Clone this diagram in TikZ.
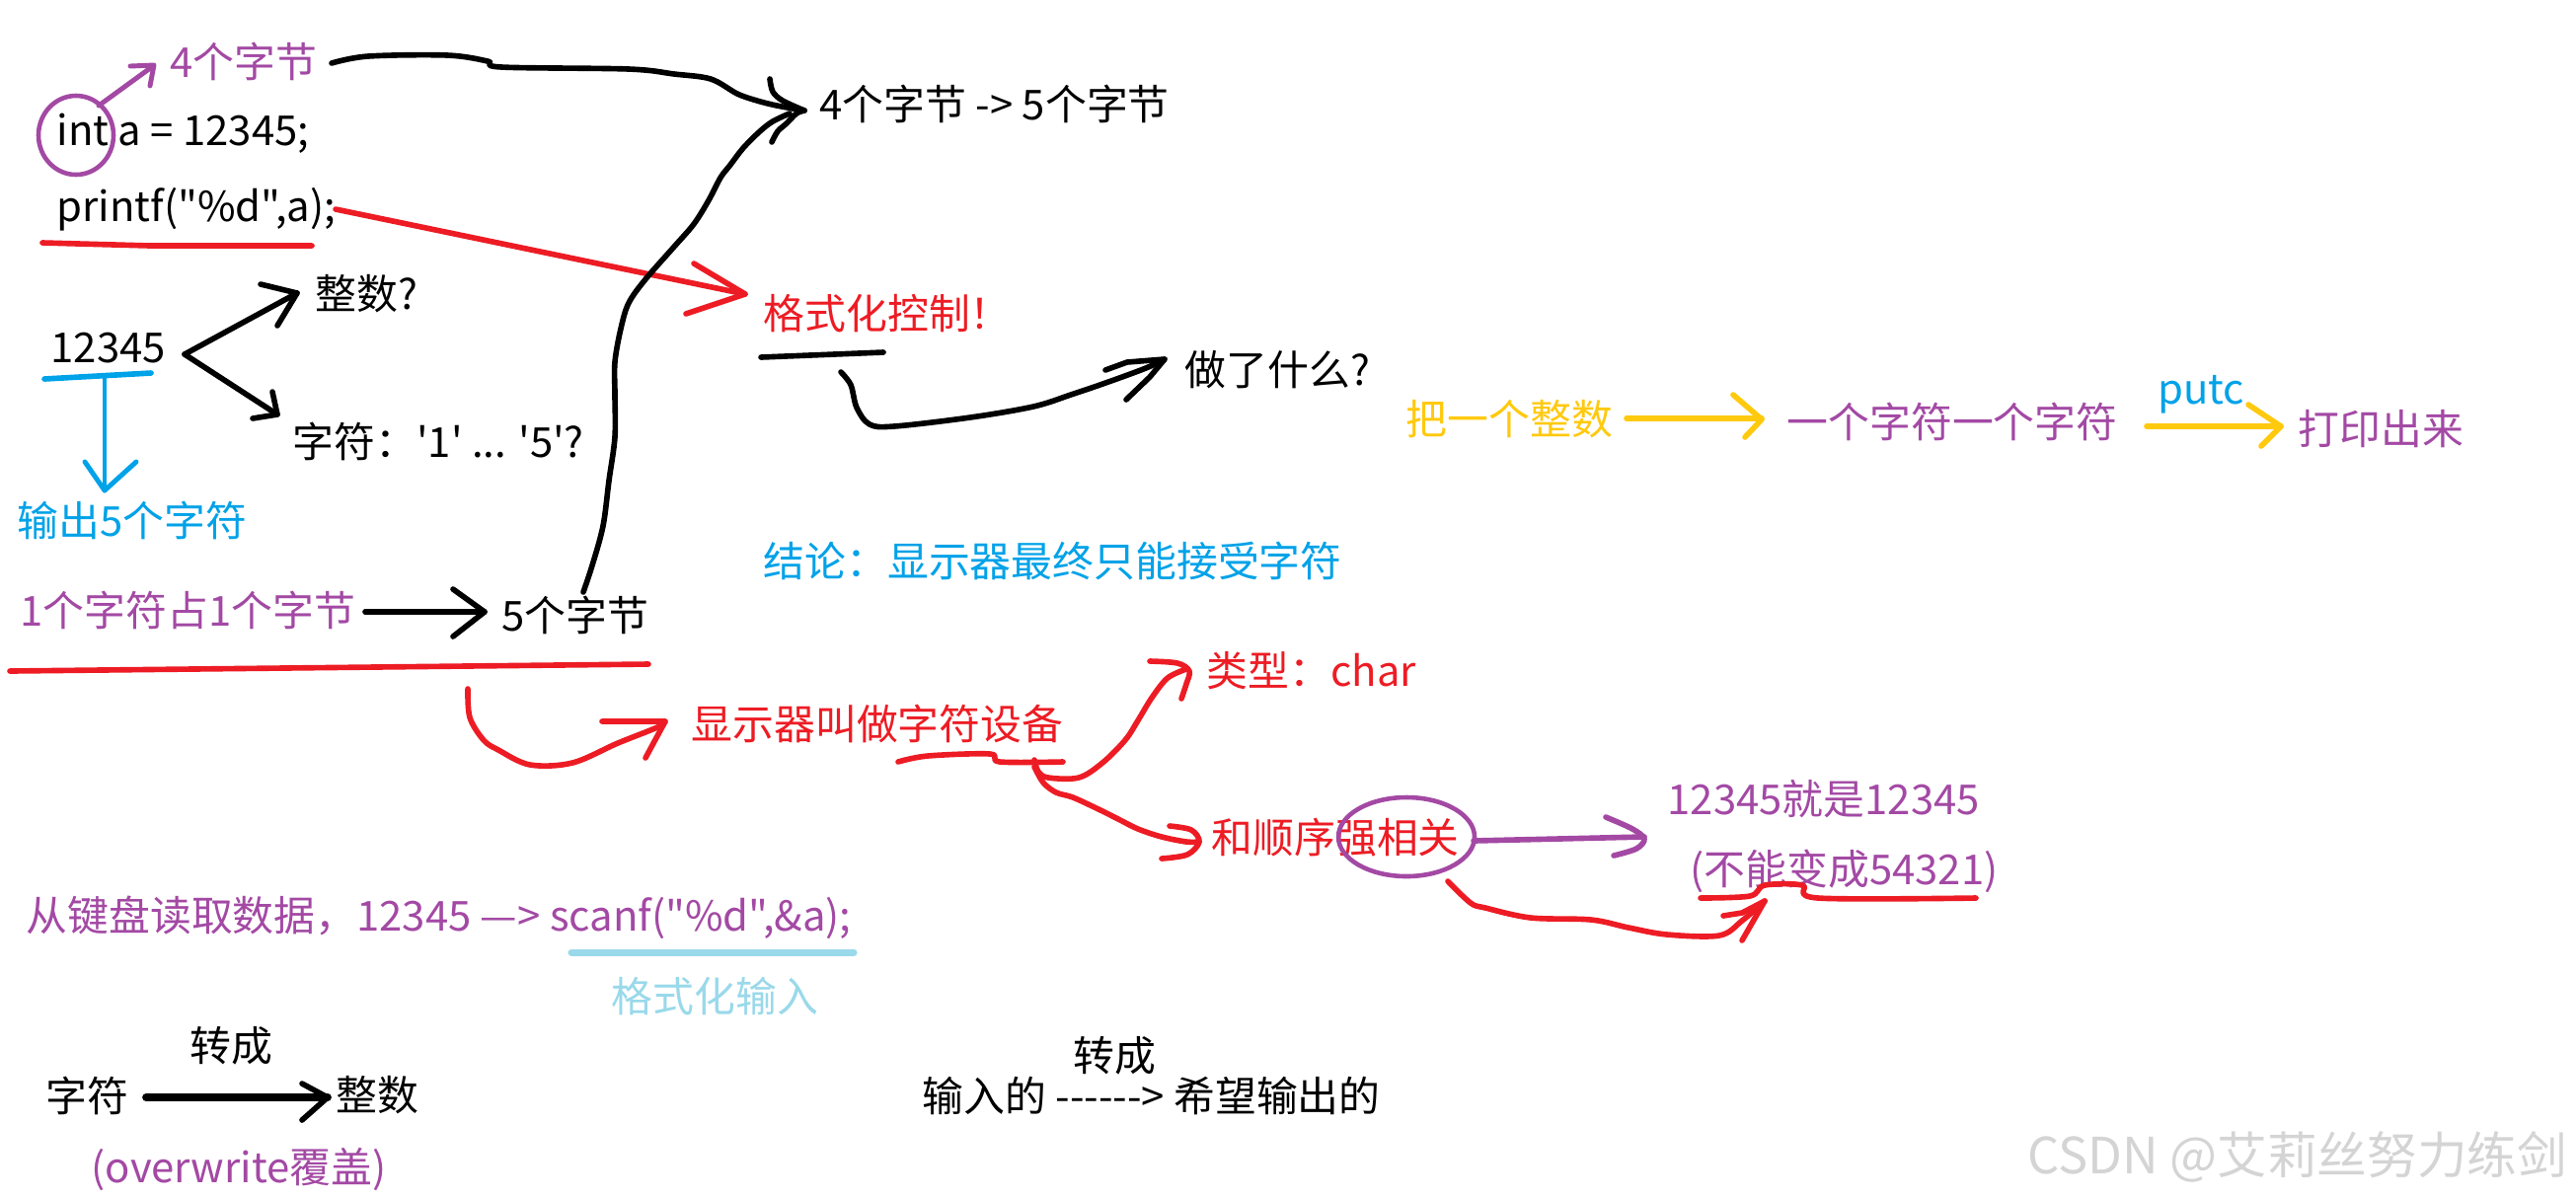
\documentclass[tikz,border=0pt]{standalone}
\usepackage{fontspec}
\setmainfont{Noto Sans CJK SC}[Ligatures=TeXOff]
\definecolor{ppl}{HTML}{A349A4}
\definecolor{rd}{HTML}{ED1C24}
\definecolor{bl}{HTML}{00A2E8}
\definecolor{gd}{HTML}{FFC90E}
\definecolor{lb}{HTML}{99D9EA}
\definecolor{wm}{HTML}{D4D4D4}
\tikzset{
  txt/.style={inner sep=0pt, anchor=west, font=\fontsize{11.9}{14}\selectfont},
  pen/.style={line width=1.6pt, line cap=round, line join=round},
  sm/.style={smooth, tension=0.55},
}
\begin{document}
\begin{tikzpicture}[x=0.01cm,y=-0.01cm]
\useasboundingbox[fill=white] (0,0) rectangle (2610,1214);

% ---- texts
\node[txt, ppl] (n4b) at (172,62) {4个字节};
\node[txt] (nint) at (57,135) {int a = 12345;};
\node[txt] (nprintf) at (57,212) {printf("\%d",a);};
\node[txt] (n12345) at (51,353) {12345};
\node[txt] (nzs1) at (319,298) {整数?};
\node[txt] (nzf1) at (296,447) {字符：'1' ... '5'?};
\node[txt, bl] (nout) at (17,527) {输出5个字符};
\node[txt, ppl] (none) at (20,618) {1个字符占1个字节};
\node[txt] (n5b) at (508,623) {5个字节};
\node[txt] (n45) at (830,105) {4个字节 -> 5个字节};
\node[txt, rd] (nfmt) at (773,318) {格式化控制！};
\node[txt] (nwhat) at (1200,375) {做了什么?};
\node[txt, gd] (nba) at (1424,425) {把一个整数};
\node[txt, ppl] (nyige) at (1810,427) {一个字符一个字符};
\node[txt, bl, anchor=center] (nputc) at (2230,400) {putc};
\node[txt, ppl] (nprint) at (2328,435) {打印出来};
\node[txt, bl] (nconc) at (773,568) {结论：显示器最终只能接受字符};
\node[txt, rd] (ndisp) at (700,733) {显示器叫做字符设备};
\node[txt, rd] (ntype) at (1222,680) {类型：char};
\node[txt, rd] (norder) at (1227,849) {和顺序强相关};
\node[txt, ppl] (nsame) at (1689,810) {12345就是12345};
\node[txt, ppl] (nnot) at (1712,883) {(不能变成54321)};
\node[txt, ppl] (nscanf) at (26,930) {从键盘读取数据，12345 —> scanf("\%d",\&a);};
\node[txt, lb] (nfmtin) at (619,1010) {格式化输入};
\node[txt] (nzh1) at (192,1060) {转成};
\node[txt] (nzf2) at (46,1110) {字符};
\node[txt] (nzs2) at (340,1110) {整数};
\node[txt, ppl] (nover) at (92,1185) {(overwrite覆盖)};
\node[txt] (nzh2) at (1087,1070) {转成};
\node[txt] (ninput) at (934,1110) {输入的 ------> 希望输出的};
\node[inner sep=0pt, anchor=west, wm, font=\fontsize{14.4}{16}\selectfont] (wmk) at (2054,1172) {CSDN @艾莉丝努力练剑};

% ---- purple circle around int and arrow to 4个字节
\draw[ppl, line width=1.3pt] (77,137) ellipse [x radius=38, y radius=40];
\draw[ppl, pen, line width=1.4pt] (100,107) -- (155,67);
\draw[ppl, pen, line width=1.4pt] (132,67) -- (156,66) -- (152,87);

% ---- red underline printf + arrow to 格式化控制
\draw[rd, pen] (43,246) -- (152,249) -- (316,249);
\draw[rd, pen] (340,212) -- (755,298);
\draw[rd, pen] (703,267) -- (755,298) -- (695,318);

% ---- black curve from 4个字节 to "4个字节 -> 5个字节"
\draw[pen] plot[sm] coordinates {(336,64) (373,57) (453,56) (494,62) (508,68) (637,70) (683,75) (720,80) (747,95) (767,102) (787,107) (815,112)};
\draw[pen] plot[sm] coordinates {(780,80) (783,93) (793,102) (815,112)};
\draw[pen] plot[sm] coordinates {(815,112) (807,115) (797,125) (788,133) (782,144)};
% big curve from 5个字节 up
\draw[pen] plot[sm] coordinates {(800,115) (783,123) (770,133) (753,150) (740,167) (730,180) (718,203) (703,227) (683,250) (654,283) (637,307) (629,333) (623,367) (623,400) (623,443) (617,487) (611,533) (600,573) (591,600)};

% ---- 12345 arrows
\draw[bl, pen] (45,384) -- (153,378);
\draw[bl, pen, line width=1.4pt] (106,381) -- (106,497);
\draw[bl, pen, line width=1.4pt] (86,468) -- (106,497) -- (138,468);
\draw[pen] (187,359) -- (301,297);
\draw[pen] (264,288) -- (301,297) -- (281,330);
\draw[pen] (187,359) -- (281,420);
\draw[pen] (276,397) -- (281,420) -- (256,424);

% ---- 1个字符占1个字节 -> 5个字节
\draw[pen] (370,620) -- (491,620);
\draw[pen] (459,597) -- (491,620) -- (459,645);
\draw[rd, pen] (10,680) -- (657,673);

% ---- red curve to 显示器
\draw[rd, pen] plot[sm] coordinates {(474,698) (476,727) (490,750) (505,760) (537,775) (580,773) (626,753) (666,737) (674,731)};
\draw[rd, pen] (610,731) -- (674,731) -- (654,768);

% ---- 格式化 underline and curve to 做了什么
\draw[pen] (771,362) -- (895,357);
\draw[pen] plot[sm] coordinates {(852,377) (862,390) (868,413) (881,430) (906,432) (983,423) (1047,412) (1085,400) (1123,387) (1161,373) (1180,364)};
\draw[pen] (1120,375) -- (1142,367) -- (1180,364) -- (1165,382) -- (1141,405);

% ---- gold arrows
\draw[gd, pen] (1648,424) -- (1785,424);
\draw[gd, pen] (1756,400) -- (1785,425) -- (1768,443);
\draw[gd, pen] (2175,432) -- (2311,432);
\draw[gd, pen] (2278,410) -- (2311,432) -- (2291,452);

% ---- 设备 branches
\draw[rd, pen] plot[sm] coordinates {(910,772) (940,766) (1003,764) (1013,772) (1077,772)};
\draw[rd, pen] plot[sm] coordinates {(1048,770) (1052,782) (1062,788) (1093,788) (1117,773) (1140,750) (1153,730) (1167,707) (1183,687) (1202,678)};
\draw[rd, pen] plot[sm] coordinates {(1165,670) (1193,672) (1205,680) (1202,693) (1197,708)};
\draw[rd, pen] plot[sm] coordinates {(1048,777) (1057,793) (1070,803) (1087,808) (1113,820) (1133,830) (1153,840) (1177,848) (1202,853) (1215,853)};
\draw[rd, pen] plot[sm] coordinates {(1185,837) (1207,841) (1215,853) (1203,866) (1177,870)};

% ---- 和顺序强相关 ellipse and arrows
\draw[ppl, line width=1.3pt] (1425,848) ellipse [x radius=69, y radius=40];
\draw[ppl, pen] (1493,852) -- (1666,848);
\draw[ppl, pen] plot[sm] coordinates {(1627,828) (1654,840) (1666,850) (1658,860) (1635,867)};
\draw[rd, pen] plot[sm] coordinates {(1723,910) (1773,908) (1788,897) (1826,897) (1842,910) (2002,910)};
\draw[rd, pen] plot[sm] coordinates {(1467,893) (1490,915) (1505,920) (1551,930) (1612,932) (1650,940) (1689,947) (1742,948) (1765,933) (1788,913)};
\draw[rd, pen] (1746,928) -- (1765,925) -- (1788,913) -- (1765,953);

% ---- bottom
\draw[lb, pen, line width=2pt] (579,965) -- (865,965);
\draw[pen, line width=2.2pt] (148,1112) -- (332,1112);
\draw[pen, line width=1.6pt] (306,1098) -- (332,1112) -- (306,1135);
\end{tikzpicture}
\end{document}
